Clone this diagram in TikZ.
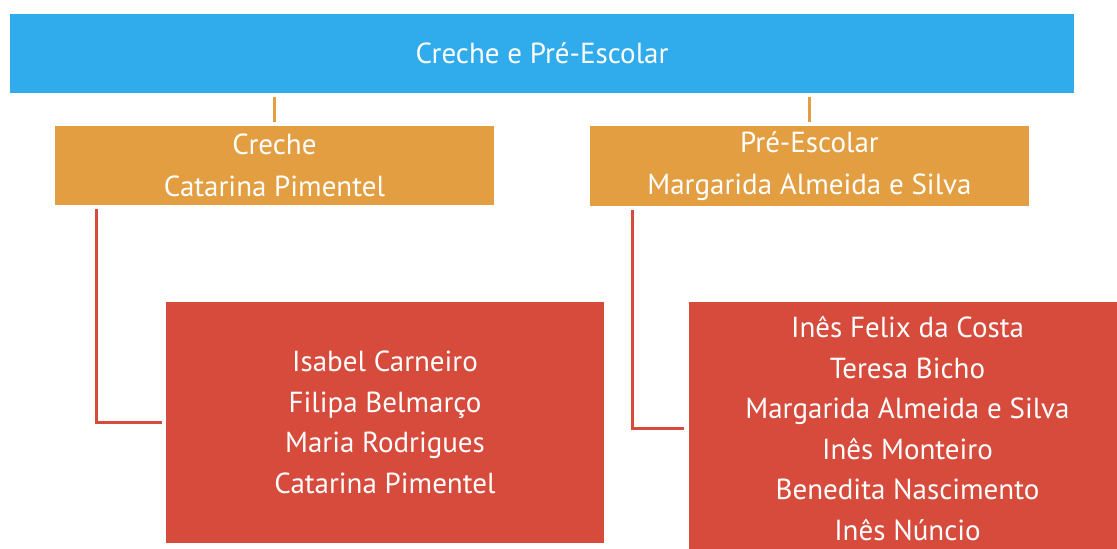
\documentclass[tikz,border=0pt]{standalone}
\usepackage{fontspec}
\setmainfont{PT Sans}
\usetikzlibrary{positioning}
\definecolor{topblue}{HTML}{30ABEB}
\definecolor{midorange}{HTML}{E29E40}
\definecolor{namered}{HTML}{D64B3C}
\tikzset{
  orgbox/.style={inner sep=0pt, text=white, align=center, font=\fontsize{29}{40.6}\selectfont},
  link/.style={line width=3pt},
}
\begin{document}
\begin{tikzpicture}[x=1pt,y=-1pt]
    \useasboundingbox (0,0) rectangle (1117,549);
    \clip (0,0) rectangle (1117,549);
    % top level
    \node[orgbox, fill=topblue, minimum width=1064pt, minimum height=79pt] (top) at (542,53.5) {Creche e Pré-Escolar};
    % second level
    \node[orgbox, fill=midorange, minimum width=439pt, minimum height=79pt, font=\fontsize{29}{42}\selectfont] (creche) at (274.5,165.5) {Creche\\Catarina Pimentel};
    \node[orgbox, fill=midorange, minimum width=439pt, minimum height=80pt, font=\fontsize{29}{42}\selectfont] (pre) at (809.5,166) {Pré-Escolar\\Margarida Almeida e Silva};
    % staff
    \node[orgbox, fill=namered, minimum width=438pt, minimum height=241pt] (crechestaff) at (385,422.5) {Isabel Carneiro\\Filipa Belmarço\\Maria Rodrigues\\Catarina Pimentel};
    \node[orgbox, fill=namered, minimum width=438pt, minimum height=253pt] (prestaff) at (907.5,428.5) {Inês Felix da Costa\\Teresa Bicho\\Margarida Almeida e Silva\\Inês Monteiro\\Benedita Nascimento\\Inês Núncio};
    % connectors
    \draw[link, midorange, shorten <=4pt, shorten >=4pt] (top.south -| creche.north) -- (creche.north);
    \draw[link, midorange, shorten <=4pt, shorten >=4pt] (top.south -| pre.north) -- (pre.north);
    \draw[link, namered] ([xshift=42pt, yshift=-4pt]creche.south west) |- ([xshift=-4pt]crechestaff.west);
    \draw[link, namered] ([xshift=43pt, yshift=-4pt]pre.south west) |- ([xshift=-4pt]prestaff.west);
\end{tikzpicture}
\end{document}
